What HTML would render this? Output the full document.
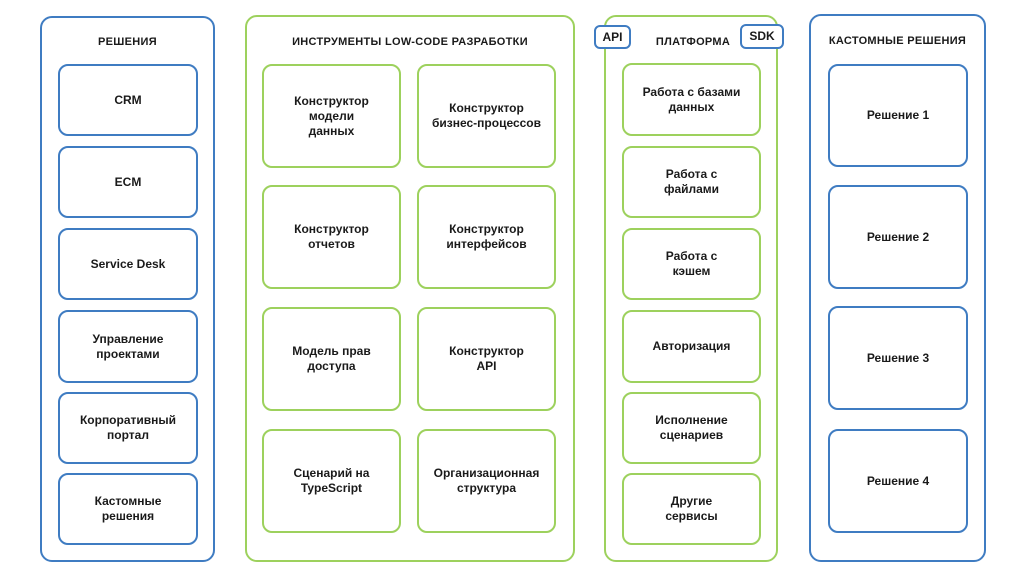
<!DOCTYPE html>
<html><head><meta charset="utf-8"><style>
body{margin:0;width:1024px;height:576px;background:#fff;position:relative;overflow:hidden;font-family:"Liberation Sans","DejaVu Sans",sans-serif;font-weight:bold;color:#1a1a1a;}
.b{position:absolute;box-sizing:border-box;border:2px solid;border-radius:10px;display:flex;align-items:center;justify-content:center;text-align:center;font-size:12px;line-height:15px;}
.bl{border-color:#3f7cc2}.gr{border-color:#9dd15d}
.o{border-radius:12px;}
.t{position:absolute;font-size:11px;text-align:center;letter-spacing:0.3px;}
</style></head><body>
<div class="b bl o" style="left:40px;top:16px;width:175px;height:546px"></div>
<div class="b gr o" style="left:245px;top:15px;width:330px;height:547px"></div>
<div class="b gr o" style="left:604px;top:15px;width:174px;height:547px"></div>
<div class="b bl o" style="left:809px;top:14px;width:177px;height:548px"></div>

<div class="t" style="left:40px;width:175px;top:36px">РЕШЕНИЯ</div>
<div class="t" style="left:245px;width:330px;top:36px">ИНСТРУМЕНТЫ LOW-CODE РАЗРАБОТКИ</div>
<div class="t" style="left:604px;width:178px;top:36px">ПЛАТФОРМА</div>
<div class="t" style="left:809px;width:177px;top:35px">КАСТОМНЫЕ РЕШЕНИЯ</div>

<div class="b bl" style="left:594px;top:25px;width:37px;height:24px;border-radius:6px;background:#fff;font-size:12px">API</div>
<div class="b bl" style="left:740px;top:24px;width:44px;height:25px;border-radius:6px;background:#fff;font-size:12px">SDK</div>

<div class="b bl" style="left:58px;top:64px;width:140px;height:72px">CRM</div>
<div class="b bl" style="left:58px;top:146px;width:140px;height:72px">ECM</div>
<div class="b bl" style="left:58px;top:228px;width:140px;height:72px">Service Desk</div>
<div class="b bl" style="left:58px;top:310px;width:140px;height:73px">Управление<br>проектами</div>
<div class="b bl" style="left:58px;top:392px;width:140px;height:72px">Корпоративный<br>портал</div>
<div class="b bl" style="left:58px;top:473px;width:140px;height:72px">Кастомные<br>решения</div>

<div class="b gr" style="left:262px;top:64px;width:139px;height:104px">Конструктор<br>модели<br>данных</div>
<div class="b gr" style="left:417px;top:64px;width:139px;height:104px">Конструктор<br>бизнес-процессов</div>
<div class="b gr" style="left:262px;top:185px;width:139px;height:104px">Конструктор<br>отчетов</div>
<div class="b gr" style="left:417px;top:185px;width:139px;height:104px">Конструктор<br>интерфейсов</div>
<div class="b gr" style="left:262px;top:307px;width:139px;height:104px">Модель прав<br>доступа</div>
<div class="b gr" style="left:417px;top:307px;width:139px;height:104px">Конструктор<br>API</div>
<div class="b gr" style="left:262px;top:429px;width:139px;height:104px">Сценарий на<br>TypeScript</div>
<div class="b gr" style="left:417px;top:429px;width:139px;height:104px">Организационная<br>структура</div>

<div class="b gr" style="left:622px;top:63px;width:139px;height:73px">Работа с базами<br>данных</div>
<div class="b gr" style="left:622px;top:146px;width:139px;height:72px">Работа с<br>файлами</div>
<div class="b gr" style="left:622px;top:228px;width:139px;height:72px">Работа с<br>кэшем</div>
<div class="b gr" style="left:622px;top:310px;width:139px;height:73px">Авторизация</div>
<div class="b gr" style="left:622px;top:392px;width:139px;height:72px">Исполнение<br>сценариев</div>
<div class="b gr" style="left:622px;top:473px;width:139px;height:72px">Другие<br>сервисы</div>

<div class="b bl" style="left:828px;top:64px;width:140px;height:103px">Решение 1</div>
<div class="b bl" style="left:828px;top:185px;width:140px;height:104px">Решение 2</div>
<div class="b bl" style="left:828px;top:306px;width:140px;height:104px">Решение 3</div>
<div class="b bl" style="left:828px;top:429px;width:140px;height:104px">Решение 4</div>
</body></html>
